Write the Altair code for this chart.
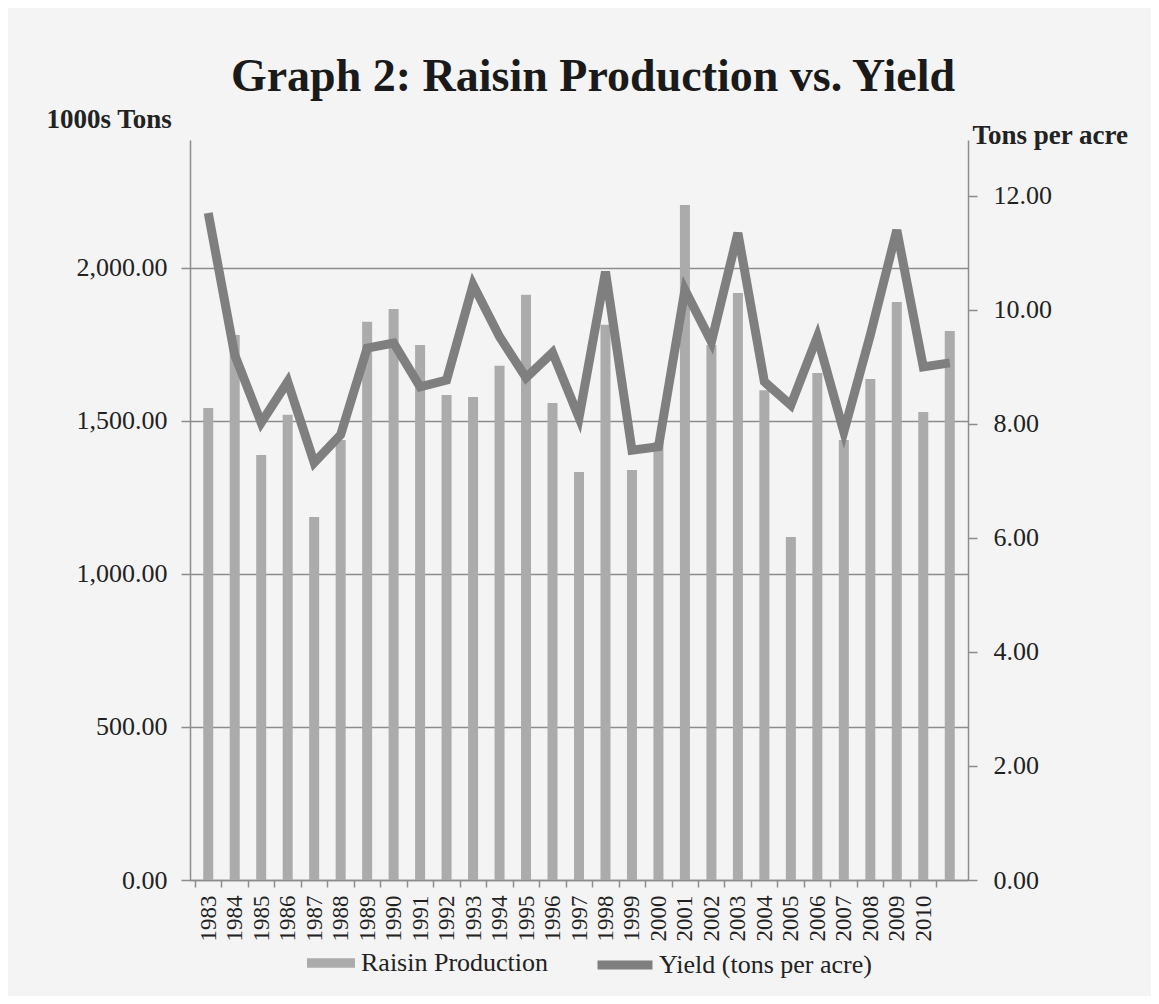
import altair as alt
import pandas as pd

# ---- data ----
years = list(range(1983, 2012))
production = [1542, 1781, 1389, 1520, 1186, 1438, 1824, 1866, 1748, 1585,
              1578, 1680, 1912, 1559, 1333, 1814, 1340, 1430, 2206, 1748,
              1918, 1600, 1121, 1657, 1438, 1637, 1889, 1529, 1794]
yield_tpa = [11.70, 9.21, 8.02, 8.74, 7.32, 7.81, 9.33, 9.42, 8.65, 8.77,
             10.44, 9.53, 8.81, 9.25, 8.11, 10.67, 7.54, 7.60, 10.35, 9.44,
             11.35, 8.74, 8.33, 9.53, 7.86, 9.56, 11.40, 9.00, 9.07]
x_tick_values = list(range(1983, 2013))
left_ticks = [0, 500, 1000, 1500, 2000]
right_ticks = [0, 2, 4, 6, 8, 10, 12]
series_bar = "Raisin Production"
series_line = "Yield (tons per acre)"

df = pd.DataFrame({"year": years, "production": production, "yield": yield_tpa,
                   "s1": series_bar, "s2": series_line})

SERIF = "Liberation Serif"
W, H = 778, 740
STEP = W / 29
GRID = "#8c8c8c"
TXT = "#222222"

x_enc = alt.X(
    "year:Q",
    title=None,
    scale=alt.Scale(domain=[1982.5, 2011.5], nice=False, zero=False),
    axis=alt.Axis(values=x_tick_values, tickOffset=-STEP / 2, labelOffset=STEP / 2,
                  labelExpr="datum.value <= 2010 ? datum.value : ''",
                  labelAngle=-90, labelFont=SERIF, labelFontSize=23, labelColor=TXT,
                  labelPadding=8, tickSize=7, tickColor=GRID, domainColor=GRID,
                  tickWidth=1.5, domainWidth=1.5, grid=False, labelFlush=False,
                  labelOverlap=False),
)

bars = alt.Chart(df).mark_bar(size=10).encode(
    x=x_enc,
    y=alt.Y("production:Q",
            scale=alt.Scale(domain=[0, 2418], nice=False),
            axis=alt.Axis(values=left_ticks, format=",.2f", orient="left",
                          title="1000s Tons", titleAngle=0, titleAlign="left",
                          titleBaseline="alphabetic", titleX=-144, titleY=-13,
                          titleFont=SERIF, titleFontSize=27, titleFontWeight="bold",
                          titleColor=TXT,
                          labelFont=SERIF, labelFontSize=26, labelColor=TXT,
                          labelPadding=14, tickSize=9, tickColor=GRID, tickWidth=1.5,
                          domainColor=GRID, domainWidth=1.5,
                          grid=True, gridColor=GRID, gridWidth=1.5)),
    color=alt.Color("s1:N",
                    scale=alt.Scale(domain=[series_bar], range=["#ababab"]),
                    legend=alt.Legend(orient="none", legendX=117, legendY=799,
                                      title=None, symbolType="M-1,-0.2H1V0.2H-1Z",
                                      symbolSize=2304, symbolStrokeWidth=0,
                                      labelFont=SERIF, labelFontSize=26,
                                      labelColor=TXT, labelOffset=6, labelLimit=0)),
)

line = alt.Chart(df).mark_line(strokeWidth=9).encode(
    x=x_enc,
    y=alt.Y("yield:Q",
            scale=alt.Scale(domain=[0, 12.98], nice=False),
            axis=alt.Axis(values=right_ticks, format=".2f", orient="right",
                          title="Tons per acre", titleAngle=0, titleAlign="left",
                          titleBaseline="alphabetic", titleX=4, titleY=3,
                          titleFont=SERIF, titleFontSize=27, titleFontWeight="bold",
                          titleColor=TXT,
                          labelFont=SERIF, labelFontSize=26, labelColor=TXT,
                          labelPadding=16, tickSize=9, tickColor=GRID, tickWidth=1.5,
                          domainColor=GRID, domainWidth=1.5, grid=False)),
    color=alt.Color("s2:N",
                    scale=alt.Scale(domain=[series_line], range=["#7f7f7f"]),
                    legend=alt.Legend(orient="none", legendX=403, legendY=793,
                                      title=None, symbolType="stroke",
                                      symbolSize=3025, symbolStrokeWidth=9,
                                      labelFont=SERIF, labelFontSize=26,
                                      labelColor=TXT, labelOffset=2, labelLimit=0)),
)

chart = alt.layer(bars, line).resolve_scale(
    y="independent", color="independent"
).properties(
    width=W, height=H,
    title=alt.TitleParams("Graph 2:  Raisin Production vs. Yield", font=SERIF,
                          fontSize=46, fontWeight="bold", color="#1a1a1a",
                          anchor="middle", frame="group", dx=14),
    padding={"left": 182, "top": 132, "right": 183, "bottom": 116},
    autosize=alt.AutoSizeParams(type="none"),
    background="#f4f4f4",
).configure_view(stroke=None)

chart.save("out.html", embed_options={"renderer": "svg", "actions": False})
